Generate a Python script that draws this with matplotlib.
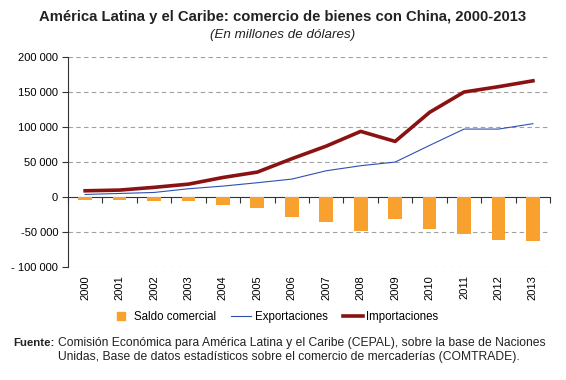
import numpy as np
import matplotlib
matplotlib.use("Agg")
import matplotlib.pyplot as plt
from matplotlib.lines import Line2D

plt.rcParams['font.family'] = ['Liberation Sans', 'DejaVu Sans']

# data (millones de dolares)
years = ['2000', '2001', '2002', '2003', '2004', '2005', '2006',
         '2007', '2008', '2009', '2010', '2011', '2012', '2013']
importaciones = [9000, 10000, 13900, 18500, 28000, 35700, 54800,
                 72800, 93800, 79500, 121000, 150000, 157600, 166000]
exportaciones = [3800, 5200, 6600, 11900, 15700, 20500, 25700,
                 37600, 44800, 50000, 73800, 97100, 97100, 104800]
saldo = [-4800, -4300, -6200, -6200, -12000, -15700, -28600,
         -35700, -48500, -31000, -45700, -53300, -61400, -62900]

yticks = [-100000, -50000, 0, 50000, 100000, 150000, 200000]
ytick_labels = ['- 100 000', '-50 000', '0', '50 000', '100 000', '150 000', '200 000']

orange = '#F8A12F'
blue = '#3050B0'
red = '#8B1212'

fig = plt.figure(figsize=(5.66, 3.8), dpi=100)
ax = fig.add_axes([0.120, 0.297, 0.852, 0.553])

x = np.arange(len(years))
ax.bar(x, saldo, width=0.4, color=orange, zorder=2)
l1, = ax.plot(x, exportaciones, color=blue, lw=0.8, zorder=3)
l2, = ax.plot(x, importaciones, color=red, lw=2.6, zorder=4)

ax.set_xlim(-0.5, len(years) - 0.5)
ax.set_ylim(-100000, 200000)
ax.set_yticks(yticks)
ax.set_yticklabels(ytick_labels, fontsize=8)
ax.tick_params(axis='y', length=4, width=0.8, color='#333333', pad=3)

# gridlines
for v in yticks:
    if v != 0:
        ax.axhline(v, color='#A0A0A0', lw=0.8, ls=(0, (4, 3)), zorder=1)

for s in ['top', 'right', 'bottom']:
    ax.spines[s].set_visible(False)
ax.spines['left'].set_color('#333333')
ax.spines['left'].set_linewidth(0.8)

# category labels at the bottom
ax.set_xticks(x)
ax.set_xticklabels(years, rotation=90, fontsize=8)
ax.tick_params(axis='x', length=0, pad=6)

# zero axis with tick marks between categories
sec = ax.secondary_xaxis(1 / 3)
sec.set_xticks(np.arange(len(years) + 1) - 0.5)
sec.set_xticklabels([])
sec.tick_params(axis='x', direction='out', length=4, width=0.8, color='#333333')
sec.spines['bottom'].set_color('#333333')
sec.spines['bottom'].set_linewidth(0.8)

fig.text(0.5, 0.954, 'América Latina y el Caribe: comercio de bienes con China, 2000-2013',
         ha='center', va='center', fontsize=10.7, fontweight='bold', color='#222222')
fig.text(0.5, 0.909, '(En millones de dólares)', ha='center', va='center',
         fontsize=9.6, style='italic', color='#222222')

sq = Line2D([], [], marker='s', ls='', color=orange, markersize=6)
fig.legend([sq, l1, l2], ['Saldo comercial', 'Exportaciones', 'Importaciones'],
           loc='center', bbox_to_anchor=(0.485, 0.165), ncol=3, frameon=False,
           fontsize=8.3, handlelength=1.75, handletextpad=0.3, columnspacing=1.3)

fig.text(0.023, 0.097, 'Fuente:', fontsize=8.2, fontweight='bold', va='center', color='#222222')
fig.text(0.103, 0.097, 'Comisión Económica para América Latina y el Caribe (CEPAL), sobre la base de Naciones',
         fontsize=8.7, va='center', color='#222222')
fig.text(0.103, 0.060, 'Unidas, Base de datos estadísticos sobre el comercio de mercaderías (COMTRADE).',
         fontsize=8.7, va='center', color='#222222')

fig.savefig('out.png', dpi=100)
